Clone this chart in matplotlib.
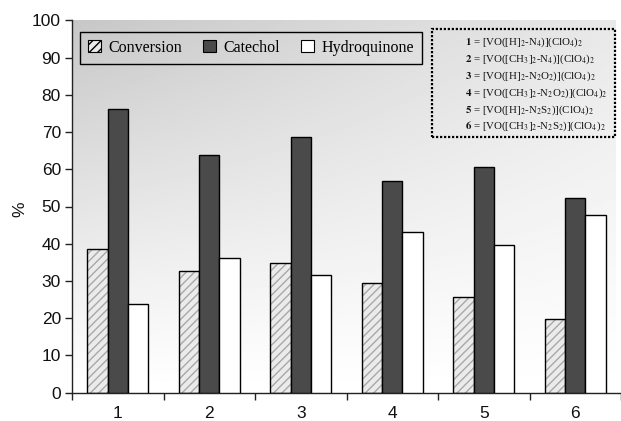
import numpy as np
import matplotlib
matplotlib.use("Agg")
import matplotlib.pyplot as plt
from matplotlib.patches import Patch, Rectangle

plt.rcParams["mathtext.fontset"] = "stix"

categories = ["1", "2", "3", "4", "5", "6"]
conversion = [38.7, 32.7, 34.9, 29.4, 25.8, 19.8]
catechol = [76.3, 63.8, 68.6, 56.9, 60.5, 52.4]
hydroquinone = [23.7, 36.3, 31.6, 43.2, 39.7, 47.6]
series_names = ["Conversion", "Catechol", "Hydroquinone"]
complex_labels = [
    r"$\mathbf{1}$ = [VO([H]$_{2}$-N$_{4}$)](ClO$_{4}$)$_{2}$",
    r"$\mathbf{2}$ = [VO([CH$_{3}$]$_{2}$-N$_{4}$)](ClO$_{4}$)$_{2}$",
    r"$\mathbf{3}$ = [VO([H]$_{2}$-N$_{2}$O$_{2}$)](ClO$_{4}$)$_{2}$",
    r"$\mathbf{4}$ = [VO([CH$_{3}$]$_{2}$-N$_{2}$O$_{2}$)](ClO$_{4}$)$_{2}$",
    r"$\mathbf{5}$ = [VO([H]$_{2}$-N$_{2}$S$_{2}$)](ClO$_{4}$)$_{2}$",
    r"$\mathbf{6}$ = [VO([CH$_{3}$]$_{2}$-N$_{2}$S$_{2}$)](ClO$_{4}$)$_{2}$",
]

W, H = 621, 421
fig = plt.figure(figsize=(W / 100, H / 100), dpi=100)
ax_left, ax_bottom, ax_top = 72, 392.7, 20.3
ax = fig.add_axes([ax_left / W, (H - ax_bottom) / H, 1 - ax_left / W,
                   (ax_bottom - ax_top) / H])

x = np.arange(1, len(categories) + 1)
xmin, xmax = 0.51, 6.44
ax.set_xlim(xmin, xmax)
ax.set_ylim(0, 100)

# shaded plot background: grey at top-left fading to white lower right
gx, gy = np.meshgrid(np.linspace(0, 1, 300), np.linspace(0, 1, 300))
shade = 1 - 0.22 * gy ** 1.1 * (1 - 0.6 * gx)
ax.imshow(shade, cmap="gray", vmin=0, vmax=1, origin="lower",
          extent=[xmin, xmax, 0, 100], aspect="auto", zorder=0,
          interpolation="bilinear")

bw = 0.222
conv_face = "#ebebeb"
hatch_col = "#a8a8a8"
dark = "#4a4a4a"

# hatched conversion bars: texture first, outline on top
ax.bar(x - bw, conversion, bw, color=conv_face, edgecolor=hatch_col,
       hatch="////", linewidth=0, zorder=2)
ax.bar(x - bw, conversion, bw, fill=False, edgecolor="black",
       linewidth=1.0, zorder=3)
ax.bar(x, catechol, bw, color=dark, edgecolor="black", linewidth=1.0, zorder=3)
ax.bar(x + bw, hydroquinone, bw, color="white", edgecolor="black",
       linewidth=1.0, zorder=3)

for s in ["top", "right"]:
    ax.spines[s].set_visible(False)
for s in ["left", "bottom"]:
    ax.spines[s].set_color("#222222")
    ax.spines[s].set_linewidth(1.0)

ax.set_yticks(np.arange(0, 101, 10))
ax.set_xticks(x)
ax.set_xticklabels(categories)
ax.set_xticks(np.arange(0.5, 7.0, 1.0), minor=True)
ax.tick_params(axis="x", which="major", length=0, pad=9.5)
ax.tick_params(axis="x", which="minor", length=5, width=1.0, direction="out",
               color="#222222")
ax.tick_params(axis="y", length=5, width=1.0, direction="out", pad=3,
               color="#222222")
for lab in ax.get_xticklabels() + ax.get_yticklabels():
    lab.set_fontfamily("Liberation Sans")
    lab.set_fontsize(12.5)
    lab.set_color("#111111")

fig.text(20 / W, 1 - 209 / H, "%", rotation=90, ha="center", va="center",
         fontsize=12.5, family="Liberation Sans", color="#111111")

handles = [
    Patch(facecolor=conv_face, edgecolor="black", hatch="////", linewidth=0.8),
    Patch(facecolor=dark, edgecolor="black", linewidth=0.8),
    Patch(facecolor="white", edgecolor="black", linewidth=0.8),
]
leg = fig.legend(handles, series_names, loc="upper left",
                 bbox_to_anchor=(80 / W, 1 - 31.7 / H), ncol=3,
                 frameon=True, fancybox=False, framealpha=1,
                 facecolor="none", edgecolor="black",
                 prop={"family": "Liberation Serif", "size": 11.5},
                 handlelength=0.8, handleheight=0.8, handletextpad=0.45,
                 columnspacing=1.35, borderpad=0.5, borderaxespad=0)
leg.get_frame().set_linewidth(1.0)

# dotted key box for the complex numbering
box = Rectangle((432 / W, 1 - 136.5 / H), (615 - 432) / W, (136.5 - 28.5) / H,
                transform=fig.transFigure, fill=False, edgecolor="black",
                linewidth=1.6, linestyle=(0, (1.0, 0.8)))
fig.add_artist(box)
for i, txt in enumerate(complex_labels):
    fig.text(465 / W, 1 - (42.7 + i * 16.8) / H, txt, ha="left", va="center",
             fontsize=7.8, family="Liberation Serif", color="#111111")

fig.savefig("out.png", dpi=100)
